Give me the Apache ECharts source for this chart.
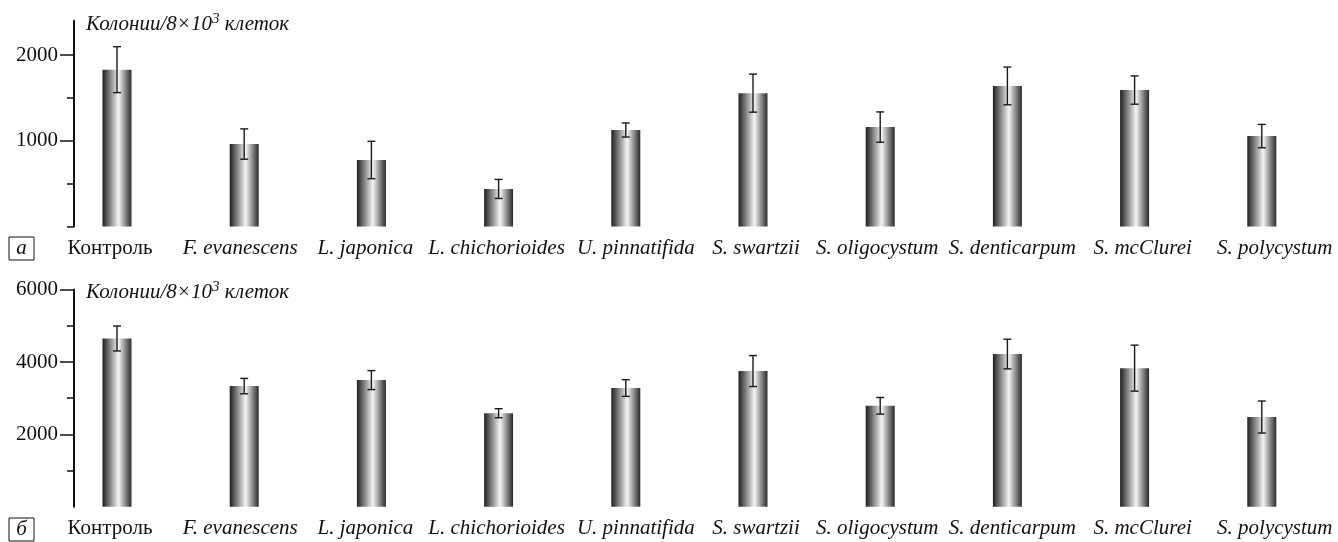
<!DOCTYPE html>
<html>
<head>
<meta charset="utf-8">
<script src="https://cdn.jsdelivr.net/npm/echarts@6/dist/echarts.min.js"></script>
<style>
html, body { margin: 0; padding: 0; background: #fff; }
#chart { width: 1338px; height: 542px; }
</style>
</head>
<body>
<div id="chart"></div>
<script>
var categories = ['Контроль', 'F. evanescens', 'L. japonica', 'L. chichorioides', 'U. pinnatifida',
  'S. swartzii', 'S. oligocystum', 'S. denticarpum', 'S. mcClurei', 'S. polycystum'];

// panel а
var meanA = [1830, 962, 776, 438, 1126, 1556, 1160, 1640, 1592, 1055];
var errA = [268, 177, 218, 111, 82, 222, 177, 220, 165, 136];
var majorA = [1000, 2000];
var minorA = [0, 500, 1000, 1500, 2000];

// panel б
var meanB = [4650, 3335, 3500, 2585, 3280, 3750, 2790, 4220, 3830, 2480];
var errB = [345, 212, 262, 125, 230, 428, 230, 410, 635, 442];
var majorB = [2000, 4000, 6000];
var minorB = [1000, 2000, 3000, 4000, 5000, 6000];

// the category labels in the original are not exactly centred under the bars
var labelShift = [-7, -4, -6, -2, 10, 3, -3, 5, 8, 13];

var serif = 'Liberation Serif';
var ink = '#111';

var barFill = new echarts.graphic.LinearGradient(0, 0, 1, 0, [
  { offset: 0, color: '#1e1e1e' },
  { offset: 0.55, color: '#f4f4f4' },
  { offset: 1, color: '#2a2a2a' }
]);

function xAxisFor(grid) {
  return {
    type: 'category',
    gridIndex: grid,
    data: categories.map(function (c, i) {
      var d = labelShift[i];
      return {
        value: c,
        textStyle: {
          fontStyle: i === 0 ? 'normal' : 'italic',
          padding: d > 0 ? [0, 0, 0, 2 * d] : [0, -2 * d, 0, 0]
        }
      };
    }),
    axisLine: { show: false },
    axisTick: { show: false },
    axisLabel: { color: ink, fontFamily: serif, fontSize: 21, margin: 11, interval: 0 }
  };
}

function yAxesFor(grid, max, major, minor) {
  return [{
    type: 'value',
    gridIndex: grid,
    position: 'left',
    min: 0,
    max: max,
    offset: -20.6,
    splitLine: { show: false },
    axisLine: { show: true, lineStyle: { color: ink, width: 2 } },
    axisTick: { show: true, length: 7, customValues: minor, lineStyle: { color: ink, width: 1.5 } },
    axisLabel: {
      customValues: major, color: ink, fontFamily: serif, fontSize: 21, margin: 16,
      formatter: function (v) { return String(v); }
    }
  }, {
    type: 'value',
    gridIndex: grid,
    position: 'left',
    min: 0,
    max: max,
    offset: -20.6,
    splitLine: { show: false },
    axisLine: { show: false },
    axisTick: { show: true, length: 14, customValues: major, lineStyle: { color: ink, width: 1.5 } },
    axisLabel: { show: false }
  }];
}

function barSeries(idx, mean) {
  return {
    type: 'bar',
    xAxisIndex: idx,
    yAxisIndex: idx * 2,
    data: mean,
    barWidth: 29,
    itemStyle: { color: barFill },
    silent: true
  };
}

function errSeries(idx, mean, err) {
  return {
    type: 'custom',
    xAxisIndex: idx,
    yAxisIndex: idx * 2,
    z: 5,
    data: mean.map(function (m, i) { return [i, m - err[i], m + err[i]]; }),
    renderItem: function (params, api) {
      var lo = api.coord([api.value(0), api.value(1)]);
      var hi = api.coord([api.value(0), api.value(2)]);
      var s = { stroke: '#1a1a1a', lineWidth: 1.4 };
      return {
        type: 'group',
        children: [
          { type: 'line', shape: { x1: hi[0], y1: hi[1], x2: lo[0], y2: lo[1] }, style: s },
          { type: 'line', shape: { x1: hi[0] - 4, y1: hi[1], x2: hi[0] + 4, y2: hi[1] }, style: s },
          { type: 'line', shape: { x1: lo[0] - 4, y1: lo[1], x2: lo[0] + 4, y2: lo[1] }, style: s }
        ]
      };
    }
  };
}

var unitRich = {
  a: { fontFamily: serif, fontStyle: 'italic', fontWeight: 'normal', fontSize: 21, color: ink },
  s: { fontFamily: serif, fontStyle: 'italic', fontWeight: 'normal', fontSize: 15, color: ink, verticalAlign: 'top', padding: [0, 0, 10, 0] }
};
var unitText = '{a|Колонии/8×10}{s|3}{a| клеток}';

function panelBox(x, y, letter) {
  return {
    type: 'group',
    children: [
      { type: 'rect', shape: { x: x, y: y, width: 25, height: 23 }, style: { fill: '#fff', stroke: ink, lineWidth: 1 } },
      { type: 'text', x: x + 12.5, y: y + 11.5, style: { text: letter, fontFamily: serif, fontStyle: 'italic', fontSize: 21, fill: ink, align: 'center', verticalAlign: 'middle' } }
    ]
  };
}

var chart = echarts.init(document.getElementById('chart'));
chart.setOption({
  animation: false,
  backgroundColor: '#fff',
  title: [
    { text: unitText, left: 81, top: 7, textStyle: { fontWeight: 'normal', rich: unitRich } },
    { text: unitText, left: 81, top: 275, textStyle: { fontWeight: 'normal', rich: unitRich } }
  ],
  grid: [
    { left: 53.4, right: 12.6, top: 20.8, height: 205.7 },
    { left: 53.4, right: 12.6, top: 289.6, height: 217.2 }
  ],
  xAxis: [xAxisFor(0), xAxisFor(1)],
  yAxis: yAxesFor(0, 2400, majorA, minorA).concat(yAxesFor(1, 6000, majorB, minorB)),
  series: [
    barSeries(0, meanA), errSeries(0, meanA, errA),
    barSeries(1, meanB), errSeries(1, meanB, errB)
  ],
  graphic: [panelBox(9, 237, 'а'), panelBox(9, 518, 'б')]
});
</script>
</body>
</html>
